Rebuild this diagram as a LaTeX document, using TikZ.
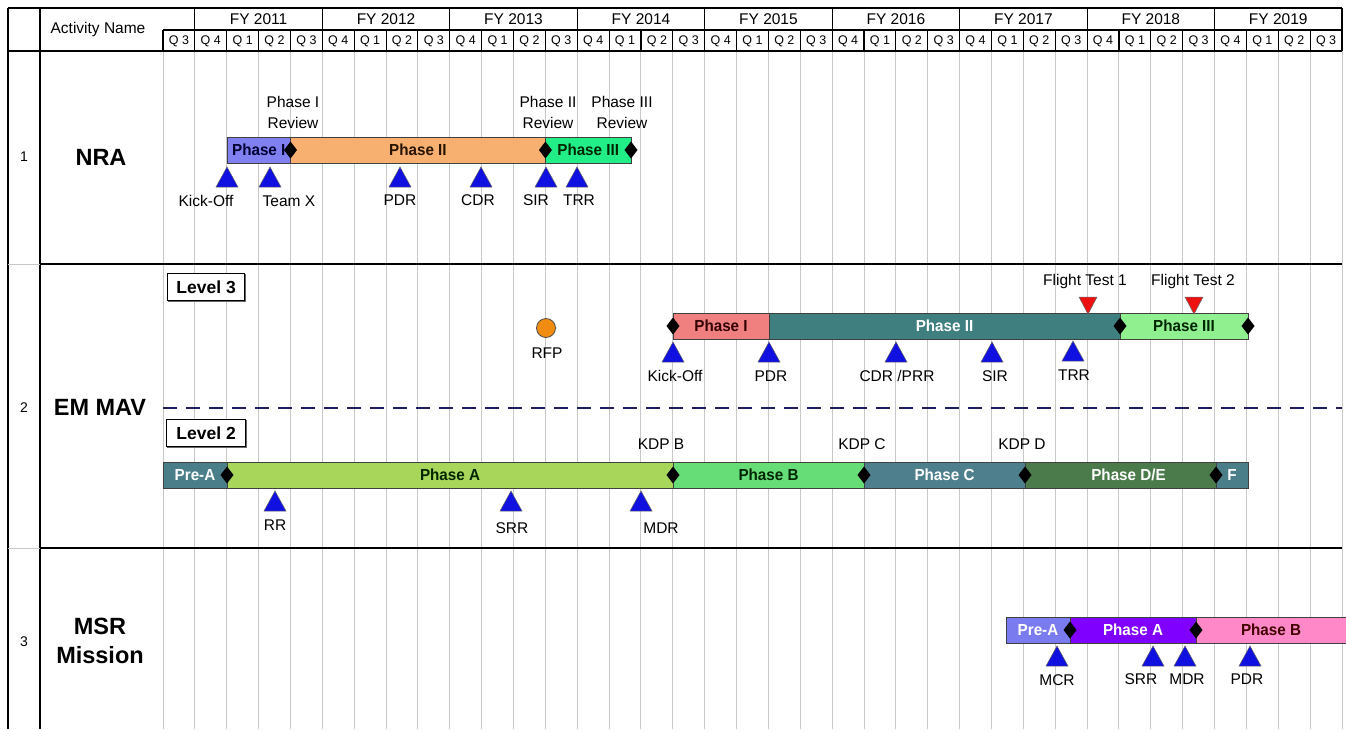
\documentclass[tikz,border=0pt]{standalone}
\usepackage{fontspec}
\setmainfont{Liberation Sans}
\newfontfamily\narrowb[FakeStretch=0.95]{Liberation Sans}
\definecolor{gridgray}{HTML}{C8C8C8}
\definecolor{msblue}{HTML}{1010E0}
\definecolor{dashnavy}{HTML}{1E1E5A}
\definecolor{nraone}{HTML}{8080F0}
\definecolor{nratwo}{HTML}{F8B070}
\definecolor{nrathree}{HTML}{22EE88}
\definecolor{lthreeone}{HTML}{F08080}
\definecolor{lthreetwo}{HTML}{3F7F7F}
\definecolor{lthreethree}{HTML}{90F090}
\definecolor{slate}{HTML}{4A7F8A}
\definecolor{phA}{HTML}{A8D65A}
\definecolor{phB}{HTML}{66DD77}
\definecolor{phC}{HTML}{4E7F8C}
\definecolor{phDE}{HTML}{4B7A4B}
\definecolor{mpre}{HTML}{7B7BF0}
\definecolor{mphA}{HTML}{7F00FF}
\definecolor{mphB}{HTML}{FF88C8}
\definecolor{rfporange}{HTML}{F08C10}
\definecolor{ftred}{HTML}{EE1111}
\tikzset{
  lbl/.style={font=\fontsize{15.5}{21}\selectfont, inner sep=0pt, align=center},
  hdr/.style={font=\fontsize{15.5}{18}\selectfont, inner sep=0pt},
  qlbl/.style={font=\fontsize{12.5}{14}\selectfont, inner sep=0pt},
  rowname/.style={font=\fontsize{23.5}{29}\selectfont\bfseries, inner sep=0pt, align=center},
  rownum/.style={font=\fontsize{14}{16}\selectfont, inner sep=0pt},
  bar/.style={draw=black!75, line width=1pt, inner sep=0pt, outer sep=0pt,
    minimum height=26pt, anchor=north west, font=\fontsize{16}{18}\narrowb\bfseries},
  levelbox/.style={draw=black, line width=1.2pt, fill=white, inner sep=0pt,
    font=\fontsize{17.5}{20}\selectfont\bfseries, anchor=north west},
  gline/.style={gridgray, line width=1pt},
  hline/.style={black, line width=1.1pt},
  rowline/.style={black, line width=2.4pt},
  mtri/.style={fill=msblue, draw=black!60, line width=0.5pt},
  ftri/.style={fill=ftred, draw=black!60, line width=0.5pt},
  dmd/.style={fill=black}
}
\newcommand\tup[2]{\path[mtri] (#1,#2) -- ++(-11,20) -- ++(22,0) -- cycle;}
\newcommand\tdown[2]{\path[ftri] (#1,#2) -- ++(-9,-17) -- ++(18,0) -- cycle;}
\newcommand\dia[2]{\path[dmd] (#1,#2) +(-6.5,0) -- +(0,-8.5) -- +(6.5,0) -- +(0,8.5) -- cycle;}
\newcommand\gbar[7]{\node[bar, fill=#5, text=#6, minimum width={#3-#2}] (#1) at (#2,#4) {#7};}
\begin{document}
\begin{tikzpicture}[x=1pt,y=-1pt]
\useasboundingbox (0,0) rectangle (1346,729);
\fill[white] (0,0) rectangle (1346,729);
% grid
\foreach \i in {0,...,37} {
  \draw[gline] ({163+31.865*\i},51) -- ({163+31.865*\i},729);
  \draw[hline] ({163+31.865*\i},30) -- ({163+31.865*\i},51);
}
\foreach \i in {1,5,...,37} {
  \draw[hline] ({163+31.865*\i},8) -- ({163+31.865*\i},30);
}
% header frame
\draw[hline] (8,8) -- (1342,8);
\draw[hline] (163,30) -- (1342,30);
\draw[hline] (8,51) -- (1342,51);
\draw[hline] (8,8) -- (8,729);
\draw[hline] (40,8) -- (40,729);
\draw[gline] (8,264) -- (40,264);
\draw[gline] (8,548) -- (40,548);
\draw[rowline] (40,264) -- (1342,264);
\draw[rowline] (40,548) -- (1342,548);
% header texts
\node[hdr] (actname) at (98,29) {Activity Name};
\foreach \k in {0,...,8} {
  \pgfmathtruncatemacro\yr{2011+\k}
  \node[hdr] (fy\k) at ({163+31.865*(3+4*\k)},19) {FY \yr};
}
\foreach \i in {0,...,36} {
  \pgfmathtruncatemacro\q{mod(\i+2,4)+1}
  \node[qlbl] (q\i) at ({163+31.865*(\i+0.5)},41) {Q \q};
}
% row titles
\node[rownum] (n1) at (24,157) {1};
\node[rownum] (n2) at (24,408) {2};
\node[rownum] (n3) at (24,642) {3};
\node[rowname] (nra) at (101,157) {NRA};
\node[rowname] (emmav) at (100,407) {EM MAV};
\node[rowname] (msr) at (100,641) {MSR\\Mission};

% ---------------- NRA ----------------
\gbar{nraI}{227}{290.5}{137}{nraone}{black!80!blue}{Phase I}
\gbar{nraII}{290.5}{545.4}{137}{nratwo}{black!85!orange}{Phase II}
\gbar{nraIII}{545.4}{631}{137}{nrathree}{black!85!green}{Phase III}
\dia{290.5}{150}
\dia{545.4}{150}
\dia{631}{150}
\node[lbl] (revI) at (293,112.5) {Phase I\\Review};
\node[lbl] (revII) at (548,112.5) {Phase II\\Review};
\node[lbl] (revIII) at (622,112.5) {Phase III\\Review};
\tup{227}{167} \tup{270}{167} \tup{400}{167} \tup{481}{167} \tup{546}{167} \tup{577}{167}
\node[lbl] (nko) at (206,201) {Kick-Off};
\node[lbl] (ntx) at (289,201) {Team X};
\node[lbl] (npdr) at (400,200) {PDR};
\node[lbl] (ncdr) at (478,200) {CDR};
\node[lbl] (nsir) at (536,200) {SIR};
\node[lbl] (ntrr) at (579,200) {TRR};

% ---------------- EM MAV Level 3 ----------------
\node[levelbox, minimum width=77pt, minimum height=27pt] (lev3) at (167,273) {Level 3};
\draw[black!60, line width=1pt] (168,301) -- (245,301) -- (245,274);
\node[circle, fill=rfporange, draw=black!70, line width=0.8pt, minimum size=19pt, inner sep=0pt] (rfp) at (546,328) {};
\node[lbl] (rfpl) at (547,353) {RFP};
\gbar{lIII}{673}{769}{313}{lthreeone}{black!80!red}{Phase I}
\gbar{lIIII}{769}{1120}{313}{lthreetwo}{white}{Phase II}
\gbar{lIIIII}{1120}{1248}{313}{lthreethree}{black!85!green}{Phase III}
\dia{673}{326}
\dia{1120}{326}
\dia{1248}{326}
\tdown{1088}{314} \tdown{1194}{314}
\node[lbl] (ft1) at (1085,281) {Flight Test 1};
\node[lbl] (ft2) at (1193,281) {Flight Test 2};
\tup{673}{342} \tup{769}{342} \tup{896}{342} \tup{992}{342} \tup{1073}{341}
\node[lbl] (l3ko) at (675,376) {Kick-Off};
\node[lbl] (l3pdr) at (771,376) {PDR};
\node[lbl] (l3cdr) at (897,376) {CDR /PRR};
\node[lbl] (l3sir) at (995,376) {SIR};
\node[lbl] (l3trr) at (1074,375) {TRR};

% dashed separator
\draw[dashnavy, line width=2.6pt, dash pattern=on 14pt off 9pt] (163,408) -- (1342,408);

% ---------------- EM MAV Level 2 ----------------
\node[levelbox, minimum width=79pt, minimum height=27pt] (lev2) at (166,419) {Level 2};
\draw[black!60, line width=1pt] (167,447) -- (246,447) -- (246,420);
\gbar{l2pre}{163}{227}{462}{slate}{white}{Pre-A\hspace{10pt}}
\gbar{l2A}{227}{673}{462}{phA}{black!85!green}{Phase A\hspace{18pt}}
\gbar{l2B}{673}{864}{462}{phB}{black!85!green}{Phase B}
\gbar{l2C}{864}{1025}{462}{phC}{white}{Phase C}
\gbar{l2DE}{1025}{1216}{462}{phDE}{white}{\hspace{16pt}Phase D/E}
\gbar{l2F}{1216}{1248}{462}{slate}{white}{F}
\dia{227}{475} \dia{673}{475} \dia{864}{475} \dia{1025}{475} \dia{1216}{475}
\node[lbl] (kdpb) at (661,444) {KDP B};
\node[lbl] (kdpc) at (862,444) {KDP C};
\node[lbl] (kdpd) at (1022,444) {KDP D};
\tup{275}{491} \tup{511}{491} \tup{641}{491}
\node[lbl] (l2rr) at (275,525) {RR};
\node[lbl] (l2srr) at (512,528) {SRR};
\node[lbl] (l2mdr) at (661,528) {MDR};

% ---------------- MSR Mission ----------------
\gbar{mpre}{1006}{1070}{617}{mpre}{white}{Pre-A\hspace{6pt}}
\gbar{mA}{1070}{1196}{617}{mphA}{white}{Phase A}
\gbar{mB}{1196}{1346}{617}{mphB}{black!75!red}{Phase B}
\dia{1070}{630} \dia{1196}{630}
\tup{1057}{646} \tup{1153}{646} \tup{1185}{646} \tup{1250}{646}
\node[lbl] (mmcr) at (1057,680) {MCR};
\node[lbl] (msrr) at (1141,679) {SRR};
\node[lbl] (mmdr) at (1187,679) {MDR};
\node[lbl] (mpdr) at (1247,679) {PDR};
\end{tikzpicture}
\end{document}
